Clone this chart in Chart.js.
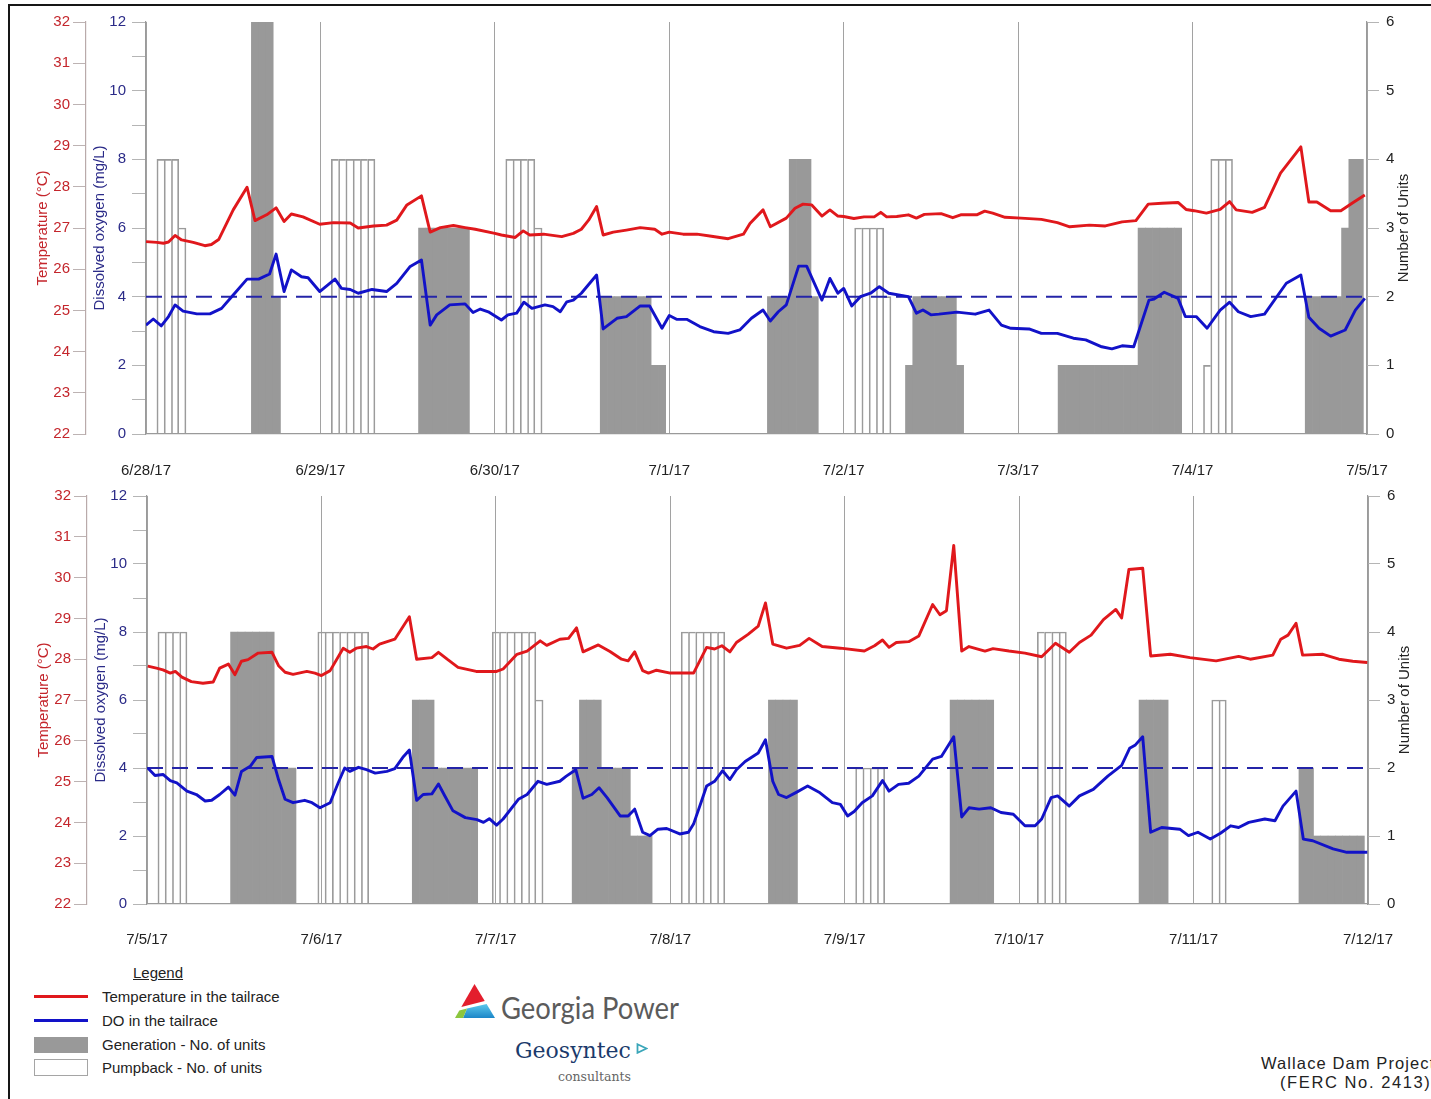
<!DOCTYPE html>
<html>
<head>
<meta charset="utf-8">
<title>Wallace Dam tailrace temperature, DO and unit operation</title>
<script src="https://cdn.jsdelivr.net/npm/chart.js@4.4.1/dist/chart.umd.min.js"></script>
<style>
  html, body { margin: 0; padding: 0; background: #fff; width: 1431px; height: 1099px; overflow: hidden; }
  body { position: relative; font-family: 'Liberation Sans', Arial, sans-serif; color: #222; }
  #frame { position: absolute; left: 8px; top: 4px; width: 1500px; height: 1200px; border: 2px solid #161616; box-sizing: border-box; }
  canvas { position: absolute; left: 0; }
  #panelTop { top: 0; }
  #panelBottom { top: 480px; }
  .txt { position: absolute; white-space: nowrap; font-size: 15px; line-height: 18px; }
  .sw { position: absolute; left: 34px; width: 54px; }
  .fit { transform-origin: 0 50%; display: inline-block; }
</style>
</head>
<body>
<div id="frame"></div>
<canvas id="panelTop" width="1431" height="482"></canvas>
<canvas id="panelBottom" width="1431" height="480"></canvas>

<!-- legend -->
<div class="txt" style="left:133px;top:964px;text-decoration:underline;">Legend</div>
<div class="sw" style="top:995px;height:3px;background:#e0181c;"></div>
<div class="txt" style="left:102px;top:988px;">Temperature in the tailrace</div>
<div class="sw" style="top:1019px;height:3px;background:#1212c8;"></div>
<div class="txt" style="left:102px;top:1012px;">DO in the tailrace</div>
<div class="sw" style="top:1037px;height:16px;background:#999;"></div>
<div class="txt" style="left:102px;top:1036px;">Generation - No. of units</div>
<div class="sw" style="top:1059px;height:17px;background:#fff;border:1px solid #a5a5a5;box-sizing:border-box;"></div>
<div class="txt" style="left:102px;top:1059px;">Pumpback - No. of units</div>

<!-- logos -->
<svg style="position:absolute;left:454px;top:983px;" width="42" height="36" viewBox="0 0 42 36">
  <defs>
    <linearGradient id="gpBlue" x1="0" y1="0" x2="0" y2="1">
      <stop offset="0" stop-color="#5cc8ec"/>
      <stop offset="1" stop-color="#1b86c8"/>
    </linearGradient>
  </defs>
  <polygon points="20.5,1 30.75,18 7.3,24" fill="#e31e2d"/>
  <polygon points="13,25.6 32.6,21 41,35 9,35" fill="url(#gpBlue)"/>
  <polygon points="5.3,27.5 13,25.6 9,35 1,35" fill="#8cc63f"/>
</svg>
<div class="txt" style="left:501px;top:990px;font-family:Lato,'Liberation Sans',sans-serif;font-size:30px;line-height:34px;color:#5b5b5b;"><span class="fit" data-w="178">Georgia Power</span></div>
<div class="txt" style="left:515px;top:1038px;font-family:'DejaVu Serif',serif;font-size:22px;line-height:26px;color:#1b3a6b;">Geosyntec</div>
<svg style="position:absolute;left:636px;top:1043px;" width="12" height="11" viewBox="0 0 12 11">
  <polygon points="1.5,1.2 10.5,5.5 1.5,9.8" fill="none" stroke="#3aa6b9" stroke-width="1.8"/>
</svg>
<div class="txt" style="left:558px;top:1069px;font-family:'DejaVu Serif',serif;font-size:12.5px;line-height:16px;color:#666;">consultants</div>

<div class="txt" style="left:1261px;top:1054px;font-size:16.5px;letter-spacing:1.1px;color:#222;">Wallace Dam Project</div>
<div class="txt" style="left:1280px;top:1073px;font-size:16.5px;letter-spacing:1.6px;color:#222;">(FERC No. 2413)</div>

<script>
// ---- tick labels (one per day, 24 h apart) ----
const topDates = ['6/28/17', '6/29/17', '6/30/17', '7/1/17', '7/2/17', '7/3/17', '7/4/17', '7/5/17'];
const bottomDates = ['7/5/17', '7/6/17', '7/7/17', '7/8/17', '7/9/17', '7/10/17', '7/11/17', '7/12/17'];

// DO standard (mg/L)
const doStandard = 4;

// ---- week 1: [hour since start, value] ----
const tempTop = [[0,26.67],[1.5,26.65],[2.4,26.63],[3.1,26.66],[4,26.82],[4.9,26.71],[6.5,26.65],[8.1,26.57],[9,26.6],[10,26.72],[12,27.44],[13.9,27.99],[15,27.18],[16.6,27.32],[17.9,27.49],[19,27.16],[20,27.34],[21.6,27.27],[23.9,27.09],[25.8,27.13],[28.1,27.12],[29.2,27.0],[31.3,27.05],[33.1,27.07],[34.5,27.19],[35.9,27.56],[37.9,27.78],[39.1,26.9],[40.5,27.01],[42.3,27.06],[43.9,27.01],[45.3,26.97],[48,26.87],[48.9,26.83],[50.8,26.77],[51.9,26.93],[52.8,26.83],[54.7,26.85],[57.2,26.79],[58.8,26.87],[59.9,26.97],[60.9,27.19],[62,27.52],[62.9,26.83],[64.3,26.9],[66.1,26.95],[68,27.01],[70,26.97],[71,26.85],[72,26.9],[73.9,26.85],[75.8,26.85],[77.8,26.8],[80.1,26.74],[82.2,26.85],[83.1,27.11],[84.9,27.44],[85.9,27.03],[88.1,27.24],[89.3,27.48],[90.4,27.58],[91.6,27.56],[93,27.29],[94.1,27.44],[95.2,27.29],[96,27.28],[97.4,27.23],[98.8,27.27],[100.2,27.27],[101.1,27.38],[101.9,27.27],[103.3,27.28],[104.9,27.32],[106,27.24],[107.1,27.33],[109.4,27.35],[111,27.25],[112.1,27.32],[114.3,27.32],[115.4,27.41],[116.5,27.36],[118.2,27.26],[120.4,27.24],[123.2,27.21],[125.4,27.13],[127.1,27.03],[129.8,27.07],[132,27.05],[134.3,27.15],[136.2,27.18],[137.9,27.58],[139.8,27.6],[142,27.62],[143.1,27.45],[144.2,27.42],[145.9,27.36],[147.8,27.45],[149.1,27.64],[150,27.44],[152.2,27.38],[153.9,27.5],[156.1,28.33],[158.9,28.97],[160,27.63],[161.1,27.63],[163,27.42],[164.4,27.42],[166.1,27.62],[167.7,27.8]];

const doTop = [[0,3.17],[1,3.35],[2.1,3.15],[3.1,3.42],[4,3.76],[5.1,3.58],[7,3.5],[8.8,3.5],[10.4,3.66],[12,4.05],[13.9,4.51],[15.5,4.51],[17,4.66],[17.9,5.24],[19,4.15],[20,4.78],[21.4,4.58],[22.3,4.55],[23.9,4.15],[26,4.51],[26.9,4.24],[28.1,4.21],[29.2,4.1],[31.1,4.21],[33.1,4.15],[34.5,4.39],[36.3,4.87],[37.9,5.07],[39.1,3.17],[40,3.47],[41.8,3.76],[43.9,3.79],[45,3.54],[46,3.64],[47.1,3.56],[48.9,3.32],[49.8,3.47],[51,3.52],[52,3.84],[53.1,3.66],[54.9,3.76],[56,3.71],[57,3.56],[57.9,3.85],[58.8,3.9],[59.9,4.1],[62,4.63],[62.9,3.06],[64.8,3.37],[66.1,3.42],[68,3.73],[69.3,3.73],[71,3.08],[72,3.45],[73,3.34],[74.4,3.34],[76.2,3.13],[78.1,2.98],[80.1,2.93],[81.7,3.03],[83.3,3.37],[84.9,3.61],[85.9,3.29],[87,3.56],[88.1,3.76],[89.8,4.89],[90.9,4.89],[93,3.9],[94.1,4.53],[95.2,4.1],[96,4.24],[97.1,3.73],[98.3,4.0],[99.7,4.1],[100.9,4.29],[102.2,4.1],[104.9,4.0],[106,3.52],[106.9,3.61],[108,3.47],[109.1,3.49],[111.6,3.55],[114.1,3.49],[116,3.61],[117.7,3.17],[119,3.08],[121.5,3.06],[123.2,2.93],[125.4,2.93],[127.6,2.79],[129.3,2.74],[131.5,2.54],[132.9,2.48],[134.3,2.57],[135.9,2.54],[138,3.9],[138.7,3.93],[140.1,4.13],[142,3.95],[143,3.42],[144.5,3.42],[146,3.08],[147.8,3.61],[149.1,3.84],[150.3,3.56],[152,3.42],[153.9,3.49],[156.9,4.39],[158.9,4.63],[160,3.4],[161.4,3.08],[163,2.85],[165,3.03],[166.4,3.61],[167.7,3.95]];

// hourly unit counts as runs: [first hour, last hour, units]
const genTop = [[15,17,6],[18,18,2],[38,44,3],[63,69,2],[70,71,1],[86,88,2],[89,91,4],[92,92,2],[105,105,1],[106,111,2],[112,112,1],[126,136,1],[137,142,3],[160,164,2],[165,165,3],[166,167,4]];
const pumpTop = [[2,4,4],[5,5,3],[26,31,4],[50,53,4],[54,54,3],[98,101,3],[102,102,2],[146,146,1],[147,149,4]];

// ---- week 2 ----
const tempBottom = [[0.1,27.83],[1.3,27.78],[2.2,27.74],[3.2,27.66],[3.9,27.7],[4.8,27.56],[6.1,27.45],[7.7,27.41],[9.1,27.44],[10,27.78],[11.2,27.88],[12.1,27.62],[13,27.95],[13.9,27.99],[15.3,28.15],[17.2,28.17],[18.1,27.84],[19,27.68],[20.1,27.63],[22,27.7],[23.1,27.66],[24,27.6],[25.2,27.72],[27,28.27],[27.9,28.17],[28.8,28.27],[30.2,28.31],[31.1,28.25],[32,28.37],[34.1,28.49],[36.1,29.04],[37.1,28.0],[39.2,28.04],[40.1,28.17],[41.3,28.0],[42.8,27.8],[45.3,27.7],[48.1,27.7],[49,27.76],[50.9,28.12],[52.3,28.2],[54.1,28.45],[55,28.34],[56.8,28.49],[58,28.51],[59.1,28.77],[60,28.18],[62.1,28.35],[63.7,28.19],[65.3,28.0],[66.2,27.96],[67.1,28.18],[68.2,27.72],[69,27.66],[70.1,27.73],[72,27.66],[75.2,27.66],[77,28.29],[78.1,28.25],[79.1,28.33],[80.2,28.18],[81.1,28.41],[82.7,28.61],[84.1,28.81],[85.1,29.38],[86.1,28.37],[88,28.27],[89.8,28.34],[91.1,28.51],[92.9,28.31],[95.4,28.27],[98.7,28.2],[100.1,28.33],[101.2,28.47],[102.1,28.29],[103.1,28.41],[104.8,28.43],[106.2,28.57],[108.1,29.34],[109.1,29.09],[110,29.19],[111,30.79],[112.1,28.2],[113.1,28.31],[115.3,28.2],[116.4,28.26],[118.6,28.2],[120.8,28.15],[123.1,28.06],[125,28.39],[126.9,28.17],[128.3,28.41],[129.9,28.59],[131.6,28.97],[133.3,29.22],[134.1,29.01],[135.1,30.2],[137,30.23],[138.1,28.08],[140.8,28.12],[143.5,28.04],[147.1,27.96],[150.2,28.07],[151.8,28.0],[154.9,28.1],[156,28.49],[157,28.59],[158.1,28.88],[159,28.1],[161.8,28.12],[164,28.0],[165.9,27.95],[167.9,27.92]];

const doBottom = [[0.1,4.0],[1.1,3.78],[2.2,3.81],[3.2,3.63],[4.1,3.56],[5.5,3.32],[6.8,3.22],[8,3.03],[8.9,3.05],[10,3.22],[11.2,3.44],[12.1,3.2],[13,3.9],[14.2,4.05],[15.1,4.31],[17.2,4.34],[18.1,3.66],[19,3.08],[20.1,2.98],[21.7,3.05],[22.7,2.98],[23.8,2.83],[25.2,2.98],[26.3,3.56],[27.2,4.0],[27.9,3.9],[29.1,4.02],[30.2,3.95],[31.4,3.85],[33,3.9],[34.1,3.98],[35.3,4.34],[36.1,4.53],[37.1,3.05],[38,3.22],[39.2,3.24],[40.1,3.53],[41,3.17],[42.1,2.74],[43.8,2.54],[45.4,2.48],[46.3,2.4],[47.1,2.51],[48.1,2.32],[49,2.5],[51.1,3.08],[52.3,3.22],[53.8,3.61],[55,3.52],[56.8,3.61],[57.7,3.76],[59,3.95],[60,3.11],[61.2,3.22],[62.2,3.42],[63.3,3.13],[65.1,2.59],[66.2,2.59],[67.1,2.79],[68.2,2.11],[69.2,2.01],[70.3,2.2],[71.5,2.22],[73.3,2.06],[74.5,2.11],[75.2,2.35],[76.3,3.03],[77,3.47],[78.1,3.61],[79.2,3.92],[80.2,3.66],[81.1,3.95],[82.3,4.19],[84.1,4.44],[85.1,4.83],[86.1,3.61],[86.9,3.22],[88,3.13],[89.4,3.29],[90.9,3.47],[92.6,3.27],[94.3,2.98],[95.4,2.93],[96.4,2.59],[97.3,2.72],[98.4,2.98],[99.8,3.18],[101.2,3.63],[102.1,3.32],[103.4,3.52],[104.8,3.55],[106.2,3.76],[108.1,4.26],[109.3,4.34],[111,4.92],[112.1,2.56],[113.1,2.83],[114.5,2.79],[116.1,2.83],[117.5,2.69],[119.2,2.64],[120.8,2.3],[122.2,2.3],[123.1,2.5],[124.4,3.13],[125.3,3.18],[126.9,2.88],[128.3,3.18],[130.2,3.37],[132.2,3.76],[134.1,4.08],[135.2,4.58],[136,4.68],[137,4.92],[138.1,2.11],[139.6,2.25],[142.1,2.2],[143.3,2.01],[144.6,2.11],[146.3,1.91],[147.7,2.08],[149.1,2.3],[150.2,2.25],[151.6,2.4],[153.8,2.5],[155.2,2.45],[156.3,2.88],[158.1,3.32],[159.1,1.91],[160.4,1.86],[163.2,1.62],[165.1,1.52],[167.9,1.52]];

const genBottom = [[12,17,4],[18,20,2],[37,39,3],[40,45,2],[59,59,2],[60,62,3],[63,66,2],[67,69,1],[86,89,3],[111,116,3],[137,140,3],[159,160,2],[161,167,1]];
const pumpBottom = [[2,5,4],[24,30,4],[48,53,4],[54,54,3],[74,79,4],[98,101,2],[123,126,4],[147,148,3]];

// ---- helpers ----
const RED = '#e0181c';
const BLUE = '#1212c8';
const TEMP_TXT = '#c4262c';
const DO_TXT = '#2b2b88';

Chart.defaults.font.family = "'Liberation Sans', Arial, sans-serif";
Chart.defaults.font.size = 15;
Chart.defaults.color = '#222';

function toXY(pairs) { return pairs.map(([h, v]) => ({ x: h, y: v })); }
function expandRuns(runs) {
  const out = [];
  runs.forEach(([a, b, u]) => { for (let h = a; h <= b; h++) out.push({ x: h, y: u }); });
  return out;
}
// outline each pumpback hour; shared edges are drawn once
function pumpBorder(ctx) {
  const d = ctx.dataset.data, i = ctx.dataIndex, p = d[i];
  if (!p) return 0;
  const prev = d[i - 1] && d[i - 1].x === p.x - 1 ? d[i - 1].y : 0;
  const next = d[i + 1] && d[i + 1].x === p.x + 1 ? d[i + 1].y : 0;
  return { top: 1, left: prev > p.y ? 0 : 1, right: next < p.y ? 1 : 0, bottom: 0 };
}

// right-hand axis title, read bottom to top
const unitsTitle = {
  id: 'unitsTitle',
  afterDraw(chart, args, opts) {
    const s = chart.scales.yU, ctx = chart.ctx;
    ctx.save();
    ctx.translate(s.right - 17, (s.top + s.bottom) / 2);
    ctx.rotate(-Math.PI / 2);
    ctx.font = "15px 'Liberation Sans', Arial, sans-serif";
    ctx.fillStyle = '#222';
    ctx.textAlign = 'center';
    ctx.textBaseline = 'middle';
    ctx.fillText(opts.text, 0, 0);
    ctx.restore();
  }
};

function makePanel(id, p) {
  const barCommon = { type: 'bar', yAxisID: 'yU', grouped: false, barPercentage: 1, categoryPercentage: 1 };
  return new Chart(document.getElementById(id), {
    type: 'line',
    data: {
      datasets: [
        { label: 'Temperature in the tailrace', data: toXY(p.temp), yAxisID: 'yT', borderColor: RED, borderWidth: 2.9,
          pointRadius: 0, tension: 0, borderJoinStyle: 'round', order: 0 },
        { label: 'DO in the tailrace', data: toXY(p.dox), yAxisID: 'yD', borderColor: BLUE, borderWidth: 2.9,
          pointRadius: 0, tension: 0, borderJoinStyle: 'round', order: 1 },
        { label: 'DO standard', data: [{ x: 0, y: doStandard }, { x: 168, y: doStandard }], yAxisID: 'yD',
          borderColor: '#2424a8', borderWidth: 2, borderDash: [16, 9], pointRadius: 0, order: 2 },
        Object.assign({ label: 'Generation - No. of units', data: expandRuns(p.gen), backgroundColor: '#999999',
          borderWidth: 0, order: 4 }, barCommon),
        Object.assign({ label: 'Pumpback - No. of units', data: expandRuns(p.pump), backgroundColor: 'rgba(255,255,255,0)',
          borderColor: '#9b9b9b', borderWidth: pumpBorder, borderSkipped: false, order: 3 }, barCommon)
      ]
    },
    options: {
      responsive: false,
      animation: false,
      devicePixelRatio: 1,
      events: [],
      layout: { padding: p.pad },
      plugins: { legend: { display: false }, tooltip: { enabled: false }, unitsTitle: { text: 'Number of Units' } },
      scales: {
        x: {
          type: 'linear', position: 'bottom', min: 0, max: 168, offset: false,
          afterFit: s => { s.height = p.xHeight; },
          ticks: { stepSize: 24, autoSkip: false, maxRotation: 0, padding: p.xPad, color: '#222',
            font: { size: 15 }, callback: v => p.dates[Math.round(v / 24)] },
          grid: { color: '#a2a2a2', lineWidth: 1, drawTicks: false, offset: false },
          border: { color: '#9a9a9a', width: 1.2 }
        },
        yD: {
          type: 'linear', position: 'left', weight: 0, min: 0, max: 12,
          afterFit: s => { s.width = 60; },
          ticks: { stepSize: 1, color: DO_TXT, padding: 6, font: { size: 15 },
            callback: v => (v % 2 === 0 ? String(v) : '') },
          grid: { drawOnChartArea: false, drawTicks: true, tickLength: 14, tickColor: '#b5b5b5' },
          border: { color: '#9a9a9a', width: 1.2 },
          title: { display: true, text: 'Dissolved oxygen (mg/L)', color: DO_TXT, font: { size: 15 }, padding: { top: 5, bottom: 0 } }
        },
        yT: {
          type: 'linear', position: 'left', weight: 1, min: 22, max: 32,
          afterFit: s => { s.width = 52; },
          ticks: { stepSize: 1, color: TEMP_TXT, padding: 3, font: { size: 15 } },
          grid: { drawOnChartArea: false, drawTicks: true, tickLength: 13, tickColor: '#bdb3b3' },
          border: { color: '#b9aaaa', width: 1.2 },
          title: { display: true, text: 'Temperature (°C)', color: TEMP_TXT, font: { size: 15 }, padding: { top: 0, bottom: 0 } }
        },
        yU: {
          type: 'linear', position: 'right', min: 0, max: 6,
          afterFit: s => { s.width = 54; },
          ticks: { stepSize: 1, color: '#222', padding: 7, font: { size: 15 } },
          grid: { drawOnChartArea: false, drawTicks: true, tickLength: 12, tickColor: '#b5b5b5' },
          border: { color: '#9a9a9a', width: 1.2 }
        }
      }
    },
    plugins: [unitsTitle]
  });
}

makePanel('panelTop', {
  temp: tempTop, dox: doTop, gen: genTop, pump: pumpTop, dates: topDates,
  pad: { top: 22, left: 34, right: 10, bottom: 0 }, xHeight: 48, xPad: 28
});
makePanel('panelBottom', {
  temp: tempBottom, dox: doBottom, gen: genBottom, pump: pumpBottom, dates: bottomDates,
  pad: { top: 12, left: 35, right: 9, bottom: 0 }, xHeight: 56, xPad: 27
});

// squeeze the logo wordmark to its box width
document.querySelectorAll('.fit').forEach(el => {
  const w = el.getBoundingClientRect().width;
  const target = parseFloat(el.dataset.w);
  if (w > 0) el.style.transform = 'scaleX(' + (target / w).toFixed(4) + ')';
});
</script>
</body>
</html>
